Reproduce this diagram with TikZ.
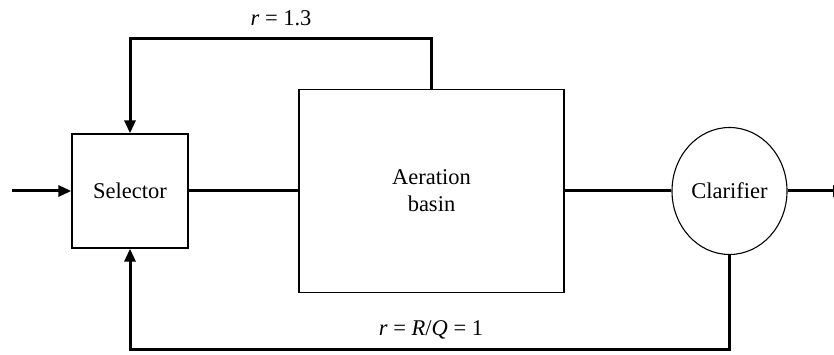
\documentclass[tikz,border=0pt]{standalone}
\usepackage{fontspec}
\setmainfont{Liberation Serif}
\usetikzlibrary{arrows.meta,shapes.geometric}
\begin{document}
\begin{tikzpicture}[x=1pt,y=-1pt,
  unit/.style={draw, line width=1.3pt, inner sep=0pt, align=center,
    font=\fontsize{22.5}{27}\selectfont},
  flow/.style={line width=3pt, line join=miter},
  arr/.style={flow, -{Triangle[length=13pt,width=11pt]}},
  lbl/.style={font=\fontsize{22.5}{27}\selectfont, inner sep=0pt}]
\useasboundingbox (0,0) rectangle (834,355);
\node[unit, minimum width=116pt, minimum height=114pt] (sel) at (130,191) {Selector};
\node[unit, minimum width=265pt, minimum height=203pt] (basin) at (431.5,191) {Aeration\\basin};
\node[unit, ellipse, minimum width=115pt, minimum height=127pt, line width=1.1pt] (clar) at (729.5,191) {Clarifier};
\coordinate (in) at (12,191);
\coordinate (out) at (846,191);
\draw[arr] (in) -- (sel.west);
\draw[flow] (sel.east) -- (basin.west);
\draw[flow] (basin.east) -- (clar.west);
\draw[arr] (clar.east) -- (out);
\draw[arr] (basin.north) -- ++(0,-50) -| (sel.north);
\draw[arr] (clar.south) -- ++(0,94) -| (sel.south);
\node[lbl] (l1) at (281,18) {\textit{r} = 1.3};
\node[lbl] (l2) at (431,330) {\textit{r} = \textit{R}/\textit{Q} = 1};
\end{tikzpicture}
\end{document}
